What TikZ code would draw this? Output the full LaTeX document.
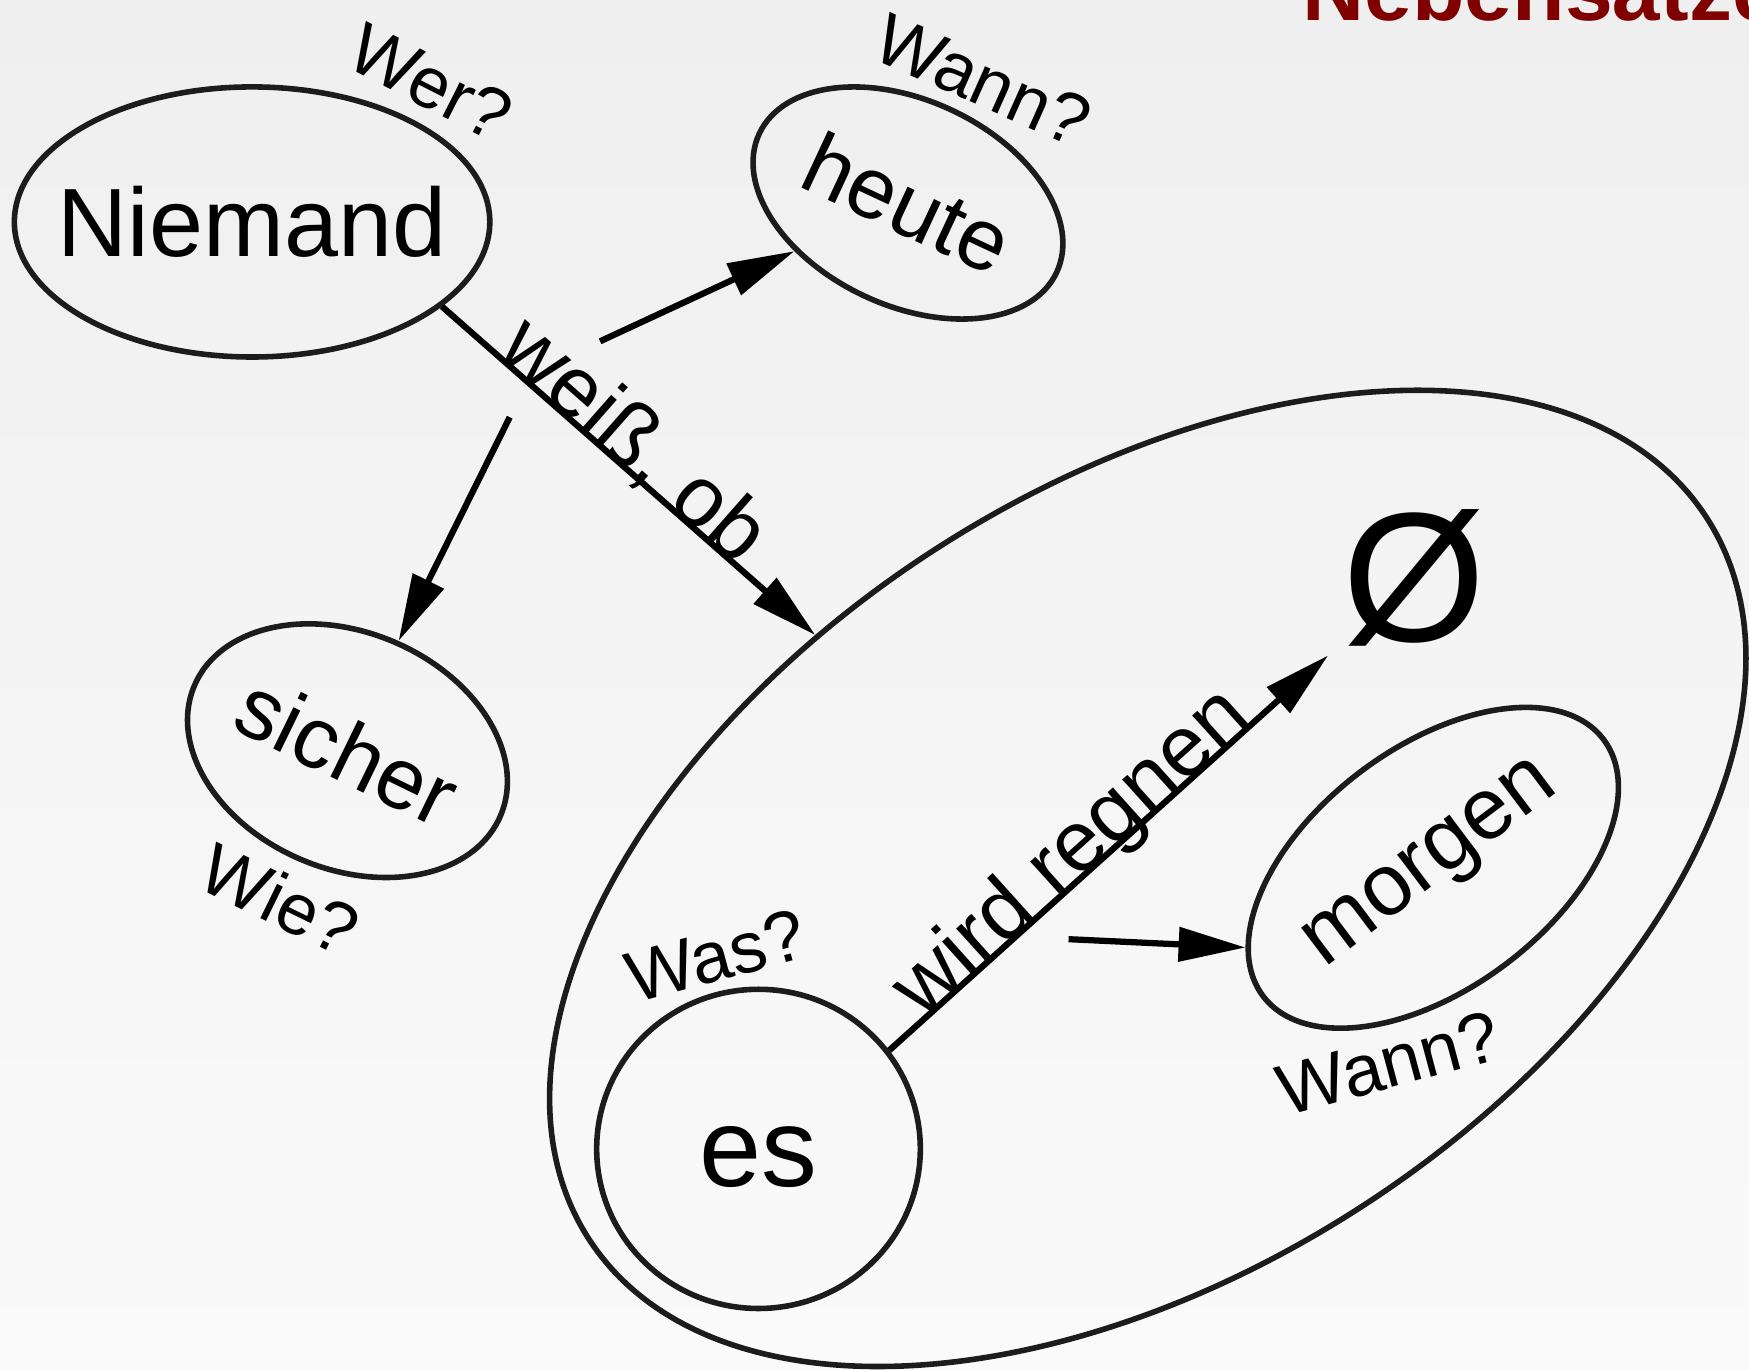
\documentclass[tikz,border=0pt]{standalone}
\usepackage{fontspec}
\setmainfont{Liberation Sans}
\usetikzlibrary{shapes.geometric,arrows.meta}
\definecolor{bgtop}{RGB}{239,239,239}
\definecolor{bgbot}{RGB}{250,250,250}
\definecolor{outline}{RGB}{28,28,28}
\definecolor{titlered}{RGB}{128,0,0}
\newcommand{\fsz}[1]{\fontsize{#1}{#1}\selectfont}
\newcommand{\ctr}[1]{\makebox[0pt][c]{#1}}
\begin{document}
\begin{tikzpicture}[x=0.01cm,y=-0.01cm,
  blob/.style={ellipse, draw=outline, line width=0.05cm, inner sep=0pt},
  arr/.style={line width=0.056cm, -{Triangle[length=0.6cm,width=0.3cm]}},
  qlab/.style={font=\fsz{18.4pt}, inner sep=0pt},
  elab/.style={font=\fsz{21.8pt}, inner sep=0pt, sloped, anchor=base},
  word/.style={font=\fsz{22.2pt}}
]
\useasboundingbox (0,0) rectangle (1568,1228);
\shade[top color=bgtop, bottom color=bgbot] (0,0) rectangle (1568,1228);

% title (cut off at the top)
\node[anchor=base west, inner sep=0pt, text=titlered, font=\fsz{21.9pt}\bfseries] (titel) at (1167,18.5) {Nebensätze};

% nodes
\node[blob, minimum width=4.26cm, minimum height=2.42cm, font=\fsz{24.75pt}] (niemand) at (226,199) {\ctr{Niemand}};
\node[blob, rotate=-25, minimum width=2.94cm, minimum height=1.84cm, word] (heute) at (814,182) {\ctr{heute}};
\node[blob, rotate=-23, minimum width=2.98cm, minimum height=2.12cm, word] (sicher) at (311.5,673) {\ctr{\rotatebox[origin=c]{-3}{sicher}}};
\node[blob, rotate=32.8, minimum width=11.92cm, minimum height=7.02cm] (satz) at (1029,787.5) {};
\node[blob, rotate=37, minimum width=3.82cm, minimum height=2.16cm, word] (morgen) at (1285,778) {\ctr{morgen}};
\node[blob, minimum width=2.9cm, minimum height=2.86cm, font=\fsz{28.45pt}] (es) at (680,1030) {\ctr{\raisebox{-0.07cm}[\height][0pt]{es}}};
\node[font=\fsz{47pt}, inner sep=0pt] (null) at (1268,518) {Ø};

% question labels
\node[qlab, rotate=-27] (wer) at (386,74) {Wer?};
\node[qlab, rotate=-24] (wannA) at (881,72) {Wann?};
\node[qlab, rotate=-26] (wie) at (251,806) {Wie?};
\node[qlab, rotate=15] (was) at (642,857) {Was?};
\node[qlab, rotate=15] (wannB) at (1245,953) {Wann?};

% free starts of modifier arrows
\coordinate (mh) at (538,306);
\coordinate (ms) at (457,374);
\coordinate (mm) at (958,842);

% connectors
\draw[arr] (niemand.-24.8) -- node[elab, pos=0.468] {weiß, ob} (satz.111.6);
\draw[arr, shorten >=1.04cm] (es.37.8) -- node[elab, pos=0.379] {wird regnen} (null.center);
\draw[arr] (mh) -- (heute.228.7);
\draw[arr] (ms) -- (sicher.88.6);
\draw[arr] (mm) -- (morgen.166.6);
\end{tikzpicture}
\end{document}
